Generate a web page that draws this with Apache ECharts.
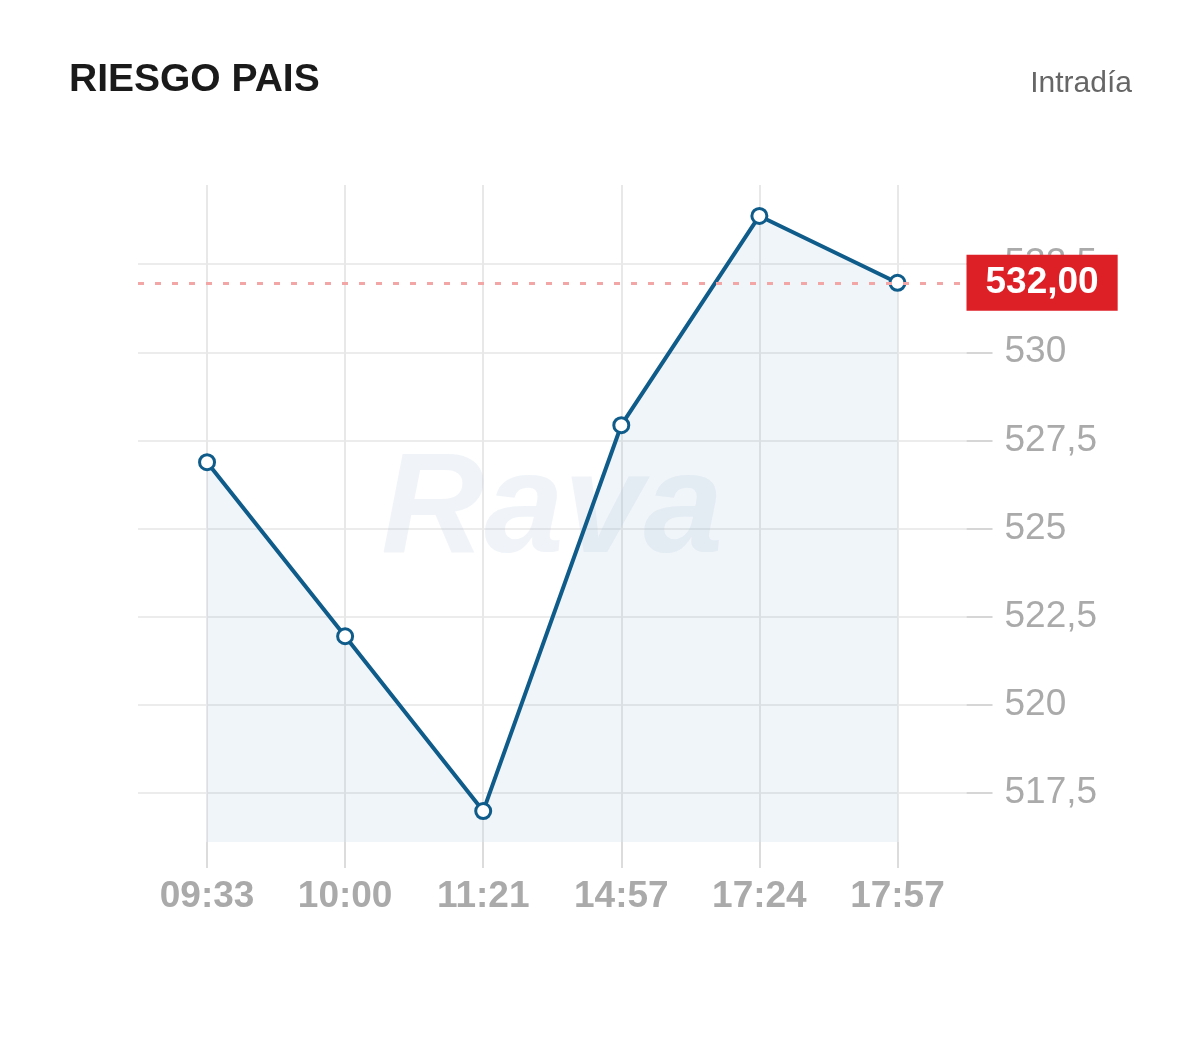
<!DOCTYPE html>
<html>
<head>
<meta charset="utf-8">
<script src="https://cdn.jsdelivr.net/npm/echarts@6/dist/echarts.min.js"></script>
<style>
html,body{margin:0;padding:0;background:#fff;}
#chart{width:1200px;height:1048px;}
</style>
</head>
<body>
<div id="chart"></div>
<script>
var categories = ['09:33', '10:00', '11:21', '14:57', '17:24', '17:57'];
var values = [526.9, 521.95, 516.98, 527.95, 533.9, 532];
var yTicks = [517.5, 520, 522.5, 525, 527.5, 530, 532.5];
var titleText = 'RIESGO PAIS';
var periodText = 'Intradía';
var watermarkText = 'Rava';

var lastValue = values[values.length - 1];
var fmt = function (v) { return String(v).replace('.', ','); };
var FONT = "'Liberation Sans', Arial, sans-serif";
var BLUE = '#0f5c8a';

var chart = echarts.init(document.getElementById('chart'), null, {renderer: 'canvas'});
chart.setOption({
  animation: false,
  backgroundColor: '#fff',
  title: [
    {text: titleText, left: 69, top: 61, padding: 0,
     textStyle: {fontFamily: FONT, fontSize: 39, fontWeight: 'bold', color: '#1a1a1a'}},
    {text: periodText, right: 68, top: 69, padding: 0,
     textStyle: {fontFamily: FONT, fontSize: 30, fontWeight: 'normal', color: '#666'}}
  ],
  grid: [
    {left: 138, right: 233.5, top: 185, bottom: 206},
    {left: 138, right: 233.5, top: 264.1, bottom: 254.8}
  ],
  xAxis: [
    {type: 'category', gridIndex: 0, data: categories, boundaryGap: true,
     axisLine: {show: false},
     axisTick: {show: true, alignWithLabel: true, length: 26, lineStyle: {color: '#dcdcdc', width: 2}},
     splitLine: {show: true, alignWithLabel: true, lineStyle: {color: '#e8e8e8', width: 2}},
     axisLabel: {margin: 36, color: '#aaa', fontFamily: FONT, fontSize: 37, fontWeight: 'bold'}},
    {type: 'category', gridIndex: 1, data: categories, show: false}
  ],
  yAxis: [
    {type: 'value', gridIndex: 0, min: 516.1, max: 534.78, show: false, splitLine: {show: false}},
    {type: 'value', gridIndex: 1, position: 'right', min: yTicks[0], max: yTicks[yTicks.length - 1],
     interval: yTicks[1] - yTicks[0],
     axisLine: {show: false},
     axisTick: {show: true, length: 26, lineStyle: {color: '#d6d6d6', width: 2}},
     splitLine: {show: true, lineStyle: {color: '#ececec', width: 2}},
     axisLabel: {margin: 38, color: '#aaa', fontFamily: FONT, fontSize: 37, formatter: fmt}}
  ],
  graphic: [
    {type: 'text', z: 2,
     style: {text: watermarkText, x: 552, y: 513, align: 'center', verticalAlign: 'middle',
             font: "italic bold 143px 'Liberation Sans', Arial, sans-serif",
             fill: 'rgba(180,200,220,0.2)'}}
  ],
  series: [
    {type: 'line', xAxisIndex: 0, yAxisIndex: 0, data: values, z: 1, silent: true,
     symbol: 'none', lineStyle: {width: 0},
     areaStyle: {color: 'rgba(25,110,165,0.095)', origin: 'start'}},
    {type: 'line', xAxisIndex: 0, yAxisIndex: 0, data: values, z: 3,
     symbol: 'circle', symbolSize: 15,
     itemStyle: {color: '#fff', borderColor: BLUE, borderWidth: 3},
     lineStyle: {color: BLUE, width: 4},
     markLine: {
       silent: true, symbol: 'none',
       lineStyle: {color: '#f3a6a6', width: 3, type: [6, 11]},
       label: {show: true, position: 'end', distance: 0,
               formatter: function () { return lastValue.toFixed(2).replace('.', ','); },
               backgroundColor: '#dd1f26', color: '#fff', fontFamily: FONT,
               fontSize: 37, fontWeight: 'bold', lineHeight: 43, padding: [7, 19, 6, 19]},
       data: [{yAxis: lastValue}]
     }}
  ]
});
</script>
</body>
</html>
